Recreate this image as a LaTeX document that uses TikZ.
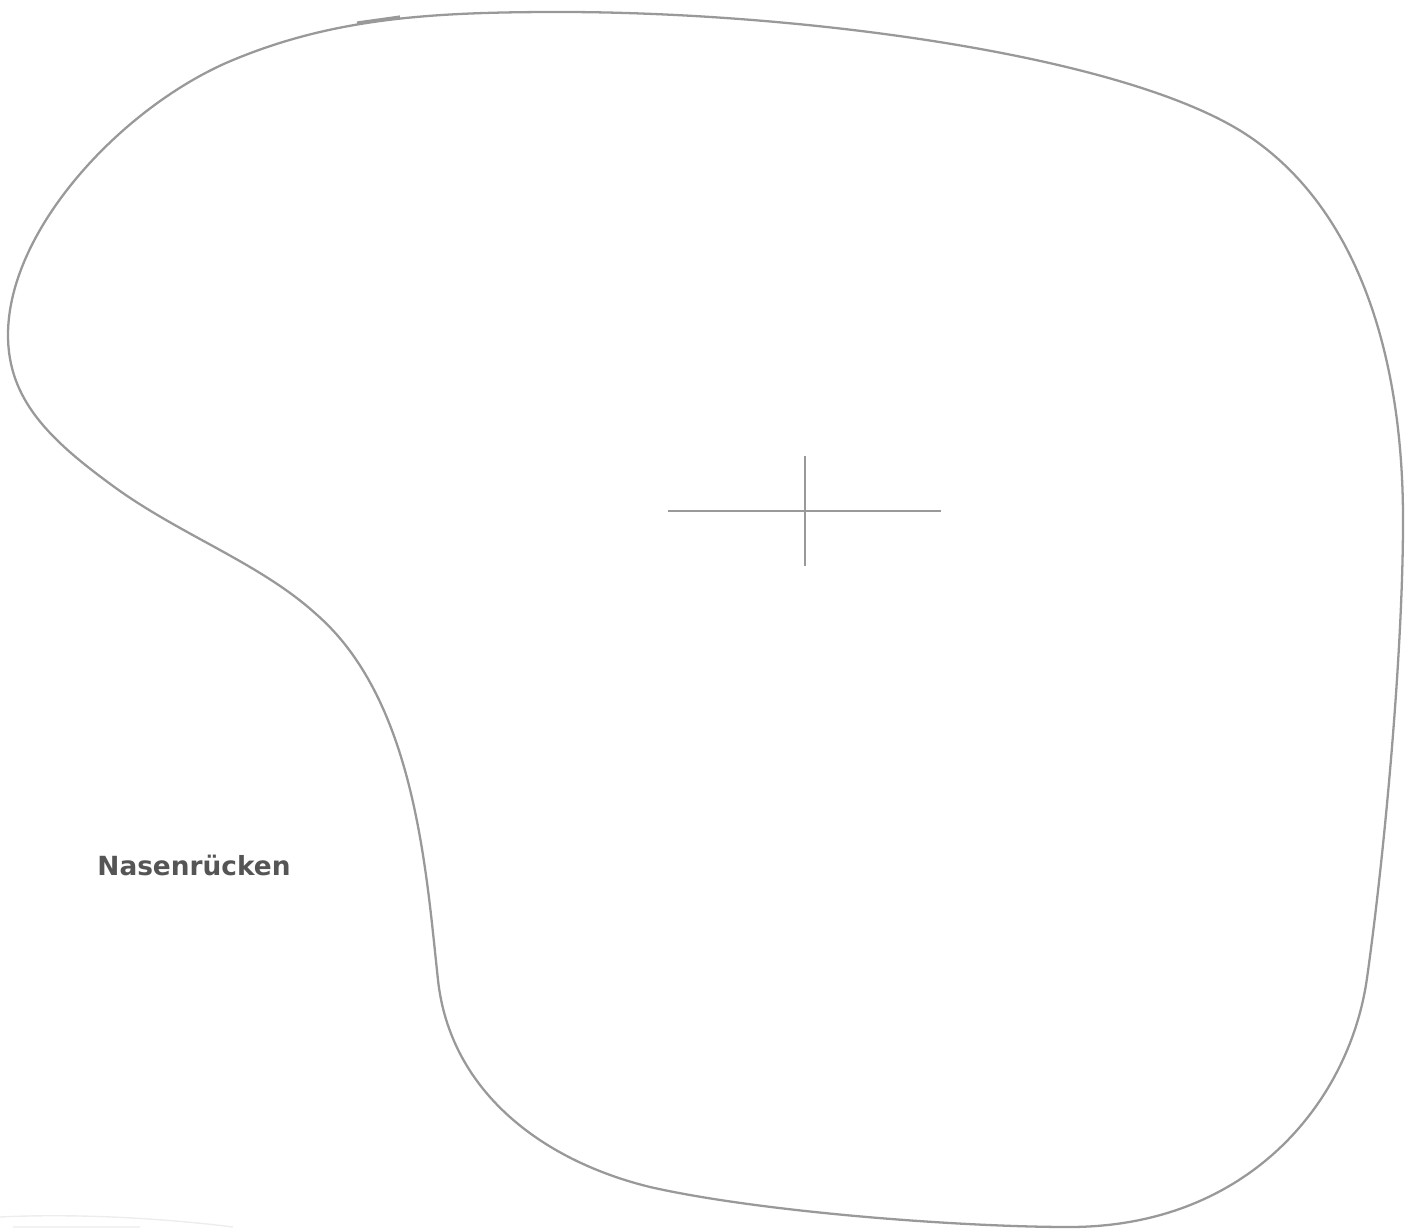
\documentclass[tikz,border=0pt]{standalone}
\usepackage{fontspec}
\usepackage{tikz}
\usetikzlibrary{positioning}
\newfontfamily\labelfont{DejaVu Sans}
\definecolor{outline}{HTML}{999999}
\definecolor{labeltext}{HTML}{555555}

\begin{document}
\begin{tikzpicture}[x=0.01cm, y=-0.01cm,
    contour/.style={draw=outline, line width=0.65pt},
    crosshair/.style={draw=outline, line width=0.75pt},
    lbl/.style={font=\labelfont\bfseries\fontsize{7.5}{9}\selectfont, text=labeltext, inner sep=0pt}]
    \useasboundingbox (0,0) rectangle (1416,1228);

    % Outline
    \draw[contour] (560,12)
        .. controls (800,12) and (1130,55) .. (1250,137)
        .. controls (1360,212) and (1403,360) .. (1403,520)
        .. controls (1403,650) and (1385,850) .. (1367,978)
        .. controls (1350,1100) and (1250,1227) .. (1069,1227)
        .. controls (960,1227) and (760,1212) .. (650,1187)
        .. controls (540,1160) and (450,1090) .. (438,980)
        .. controls (426,870) and (415,700) .. (316,614)
        .. controls (260,563) and (180,535) .. (113,486)
        .. controls (50,440) and (8,400) .. (8,335)
        .. controls (8,230) and (120,110) .. (226,63)
        .. controls (330,18) and (430,12) .. cycle;
    \draw[contour, line width=0.9pt] (357,23) -- (400,17);

    % Centre mark
    \draw[crosshair] (668,511) -- (941,511);
    \draw[crosshair] (805,456) -- (805,566);

    % Label
    \node[lbl] (nasen) at (194,865) {Nasenrücken};

    % faint traces at the lower border
    \draw[black!7, line width=0.4pt] (0,1217) .. controls (80,1213) and (170,1219) .. (233,1227);
    \draw[black!5, line width=0.4pt] (13,1227) -- (140,1227);
\end{tikzpicture}
\end{document}
